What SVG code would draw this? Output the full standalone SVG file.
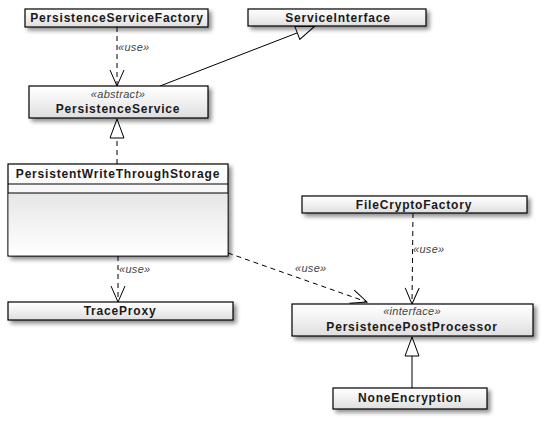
<svg xmlns="http://www.w3.org/2000/svg" width="548" height="425" viewBox="0 0 548 425">
<defs>
<linearGradient id="g" x1="0" y1="0" x2="0" y2="1">
<stop offset="0" stop-color="#ffffff"/>
<stop offset="0.45" stop-color="#f2f2f2"/>
<stop offset="1" stop-color="#dedede"/>
</linearGradient>
<linearGradient id="g2" x1="0" y1="0" x2="0" y2="1">
<stop offset="0" stop-color="#e6e6e6"/>
<stop offset="1" stop-color="#ffffff"/>
</linearGradient>
<filter id="sh" x="-10%" y="-30%" width="125%" height="180%">
<feGaussianBlur in="SourceAlpha" stdDeviation="2"/>
<feOffset dx="3" dy="3"/>
<feComponentTransfer><feFuncA type="linear" slope="0.45"/></feComponentTransfer>
<feMerge><feMergeNode/><feMergeNode in="SourceGraphic"/></feMerge>
</filter>
<marker id="open" viewBox="0 0 20 20" refX="18" refY="10" markerWidth="20" markerHeight="20" markerUnits="userSpaceOnUse" orient="auto">
<path d="M2,3 L18,10 L2,17" fill="none" stroke="#000" stroke-width="1"/>
</marker>
<marker id="tri" viewBox="0 0 22 22" refX="20" refY="11" markerWidth="22" markerHeight="22" markerUnits="userSpaceOnUse" orient="auto">
<path d="M1,4 L20,11 L1,18 Z" fill="#fff" stroke="#000" stroke-width="1"/>
</marker>
</defs>
<style>
.box{fill:url(#g);stroke:#000;stroke-width:1.2;filter:url(#sh)}
.name{font-family:"Liberation Sans",Arial,sans-serif;font-weight:bold;font-size:12px;letter-spacing:0.8px;text-anchor:middle;fill:#1a1a1a}
.st{font-family:"Liberation Sans",Arial,sans-serif;font-style:italic;font-size:11px;letter-spacing:0.3px;text-anchor:middle;fill:#444}
.lbl{font-family:"Liberation Sans",Arial,sans-serif;font-style:italic;font-size:11px;letter-spacing:0.3px;fill:#444}
.dash{fill:none;stroke:#000;stroke-width:1;stroke-dasharray:5,4}
.solid{fill:none;stroke:#000;stroke-width:1}
</style>
<rect width="548" height="425" fill="#fff"/>

<g id="connectors">
<path class="dash" d="M117,27 L117,86" marker-end="url(#open)"/>
<text class="lbl" x="118" y="51">«use»</text>
<path class="solid" d="M160,86 L315,26" marker-end="url(#tri)"/>
<path class="dash" d="M117,164 L117,119" marker-end="url(#tri)"/>
<path class="dash" d="M118,256 L118,302" marker-end="url(#open)"/>
<text class="lbl" x="119" y="273">«use»</text>
<path class="dash" d="M228,253 L367,302" marker-end="url(#open)"/>
<text class="lbl" x="295" y="272">«use»</text>
<path class="dash" d="M413,213 L412,304" marker-end="url(#open)"/>
<text class="lbl" x="413" y="253">«use»</text>
<path class="solid" d="M412,388 L412,337" marker-end="url(#tri)"/>
</g>

<g id="PersistenceServiceFactory">
<rect class="box" x="25" y="9" width="183" height="18"/>
<text class="name" x="117" y="22">PersistenceServiceFactory</text>
</g>
<g id="ServiceInterface">
<rect class="box" x="248" y="9" width="178" height="17"/>
<text class="name" x="338" y="22">ServiceInterface</text>
</g>
<g id="PersistenceService">
<rect class="box" x="29" y="86" width="179" height="32"/>
<text class="st" x="118" y="98">«abstract»</text>
<text class="name" x="118" y="113">PersistenceService</text>
</g>
<g id="PersistentWriteThroughStorage">
<rect class="box" x="8" y="164" width="220" height="92"/>
<rect x="8.6" y="193" width="218.8" height="62.4" fill="url(#g2)"/>
<line class="solid" x1="8" y1="184" x2="228" y2="184"/>
<line class="solid" x1="8" y1="193" x2="228" y2="193"/>
<text class="name" x="118" y="178">PersistentWriteThroughStorage</text>
</g>
<g id="TraceProxy">
<rect class="box" x="8" y="302" width="225" height="18"/>
<text class="name" x="120" y="315">TraceProxy</text>
</g>
<g id="FileCryptoFactory">
<rect class="box" x="302" y="196" width="225" height="17"/>
<text class="name" x="414" y="209">FileCryptoFactory</text>
</g>
<g id="PersistencePostProcessor">
<rect class="box" x="292" y="304" width="241" height="32"/>
<text class="st" x="412" y="315">«interface»</text>
<text class="name" x="412" y="331">PersistencePostProcessor</text>
</g>
<g id="NoneEncryption">
<rect class="box" x="333" y="388" width="154" height="21"/>
<text class="name" x="410" y="402">NoneEncryption</text>
</g>
</svg>
